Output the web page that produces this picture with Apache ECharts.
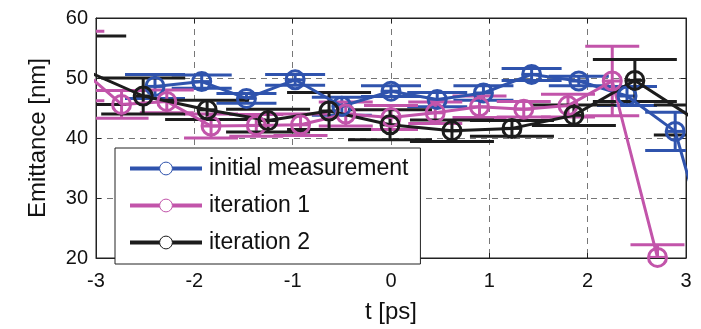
<!DOCTYPE html>
<html>
<head>
<meta charset="utf-8">
<script src="https://cdn.jsdelivr.net/npm/echarts@6/dist/echarts.min.js"></script>
<style>
  html, body { margin: 0; padding: 0; background: #fff; }
  #chart { width: 701px; height: 329px; }
</style>
</head>
<body>
<div id="chart"></div>
<script>
// tick labels
const xTicks = [-3, -2, -1, 0, 1, 2, 3];
const yTicks = [20, 30, 40, 50, 60];

// initial measurement: time [ps], emittance [nm], error [nm]
const tInit = [-2.40, -1.925, -1.47, -0.975, -0.50, 0.0, 0.47, 0.94, 1.43, 1.91, 2.40, 2.89, 3.38];
const vInit = [48.6, 49.4, 46.6, 49.7, 45.3, 47.8, 46.4, 47.5, 50.6, 49.5, 47.0, 41.1, 13.0];
const eInit = [2.0, 1.1, 0.8, 0.9, 1.5, 0.9, 1.2, 1.2, 1.0, 0.8, 1.6, 3.2, 3.0];

// iteration 1
const tIt1 = [-3.19, -2.74, -2.28, -1.83, -1.37, -0.92, -0.46, 0.0, 0.45, 0.90, 1.35, 1.80, 2.25, 2.71];
const vIt1 = [52.0, 45.6, 46.1, 42.0, 42.1, 42.2, 44.0, 43.4, 44.2, 45.2, 44.8, 45.4, 49.5, 20.1];
const eIt1 = [5.8, 2.3, 1.9, 2.0, 1.8, 1.8, 2.0, 2.0, 1.8, 1.8, 1.3, 1.9, 5.8, 2.1];

// iteration 2
const tIt2 = [-3.12, -2.52, -1.87, -1.25, -0.63, -0.01, 0.62, 1.23, 1.86, 2.48, 3.10];
const vIt2 = [51.3, 47.0, 44.7, 42.9, 44.5, 42.2, 41.2, 41.6, 43.8, 49.6, 43.0];
const eIt2 = [5.7, 3.0, 1.6, 1.9, 3.1, 2.5, 1.8, 1.3, 1.7, 3.5, 2.5];

const names = ['initial measurement', 'iteration 1', 'iteration 2'];
const colors = ['#2f53ad', '#c254aa', '#1c1c1c'];

const chart = echarts.init(document.getElementById('chart'));

function lineSeries(name, t, v, color) {
  return {
    name: name,
    type: 'line',
    data: t.map((x, i) => [x, v[i]]),
    symbol: 'circle',
    symbolSize: 18,
    clip: true,
    lineStyle: { color: color, width: 3 },
    itemStyle: { color: 'transparent', borderColor: color, borderWidth: 3 },
    emphasis: { disabled: true },
    animation: false
  };
}

// vertical error bars with wide caps and a short stroke through the marker
function errSeries(name, t, v, e, color, capHalf) {
  return {
    name: name + ' err',
    type: 'custom',
    clip: true,
    data: t.map((x, i) => [x, v[i], e[i]]),
    renderItem: function (params, api) {
      const x = api.value(0), y = api.value(1), err = api.value(2);
      const hi = api.coord([x, y + err]);
      const lo = api.coord([x, y - err]);
      const c = api.coord([x, y]);
      const style = { stroke: color, lineWidth: 3 };
      return {
        type: 'group',
        children: [
          { type: 'line', shape: { x1: hi[0], y1: hi[1], x2: lo[0], y2: lo[1] }, style: style },
          { type: 'line', shape: { x1: hi[0] - capHalf, y1: hi[1], x2: hi[0] + capHalf, y2: hi[1] }, style: style },
          { type: 'line', shape: { x1: lo[0] - capHalf, y1: lo[1], x2: lo[0] + capHalf, y2: lo[1] }, style: style },
          { type: 'line', shape: { x1: c[0] - 8, y1: c[1], x2: c[0] + 8, y2: c[1] }, style: style }
        ]
      };
    },
    animation: false
  };
}

const fontName = 'Liberation Sans';

const option = {
  backgroundColor: '#fff',
  animation: false,
  textStyle: { fontFamily: fontName },
  grid: {
    left: 96, right: 15, top: 18, bottom: 70,
    show: true, borderColor: '#222', borderWidth: 1
  },
  legend: {
    data: names,
    orient: 'vertical',
    left: 115, top: 148,
    padding: [9, 12, 10, 13],
    itemWidth: 72, itemHeight: 16, itemGap: 14,
    backgroundColor: '#fff',
    borderColor: '#222', borderWidth: 1, borderRadius: 0,
    itemStyle: { color: '#fff', borderWidth: 1 },
    lineStyle: { width: 4 },
    textStyle: { fontFamily: fontName, fontSize: 23, lineHeight: 20, color: '#111', padding: [0, 0, 0, 2] },
    selectedMode: false,
    z: 20
  },
  xAxis: [{
    type: 'value', min: -3, max: 3, interval: 1,
    name: 't [ps]', nameLocation: 'middle', nameGap: 42,
    nameTextStyle: { fontFamily: fontName, fontSize: 24, color: '#111' },
    axisLine: { onZero: false, lineStyle: { color: '#222', width: 1 } },
    axisTick: { inside: true, length: 5, lineStyle: { color: '#222' } },
    axisLabel: { fontFamily: fontName, fontSize: 20, color: '#111', margin: 13,
      formatter: v => xTicks.includes(v) ? String(v) : '' },
    splitLine: { show: true, lineStyle: { color: '#777', type: [6, 5], width: 1 } }
  }, {
    type: 'value', min: -3, max: 3, interval: 1, position: 'top',
    axisLine: { onZero: false, lineStyle: { color: '#222', width: 1 } },
    axisTick: { inside: true, length: 5, lineStyle: { color: '#222' } },
    axisLabel: { show: false }, splitLine: { show: false }
  }],
  yAxis: [{
    type: 'value', min: 20, max: 60, interval: 10,
    name: 'Emittance [nm]', nameLocation: 'middle', nameGap: 46,
    nameTextStyle: { fontFamily: fontName, fontSize: 24, color: '#111' },
    axisLine: { show: true, onZero: false, lineStyle: { color: '#222', width: 1 } },
    axisTick: { show: true, inside: true, length: 5, lineStyle: { color: '#222' } },
    axisLabel: { fontFamily: fontName, fontSize: 20, color: '#111', margin: 8,
      formatter: v => yTicks.includes(v) ? String(v) : '' },
    splitLine: { show: true, lineStyle: { color: '#777', type: [6, 5], width: 1 } }
  }, {
    type: 'value', min: 20, max: 60, interval: 10, position: 'right',
    axisLine: { show: true, onZero: false, lineStyle: { color: '#222', width: 1 } },
    axisTick: { show: true, inside: true, length: 5, lineStyle: { color: '#222' } },
    axisLabel: { show: false }, splitLine: { show: false }
  }],
  series: [
    lineSeries(names[0], tInit, vInit, colors[0]),
    errSeries(names[0], tInit, vInit, eInit, colors[0], 30),
    lineSeries(names[1], tIt1, vIt1, colors[1]),
    errSeries(names[1], tIt1, vIt1, eIt1, colors[1], 27),
    lineSeries(names[2], tIt2, vIt2, colors[2]),
    errSeries(names[2], tIt2, vIt2, eIt2, colors[2], 42)
  ]
};

chart.setOption(option);
</script>
</body>
</html>
